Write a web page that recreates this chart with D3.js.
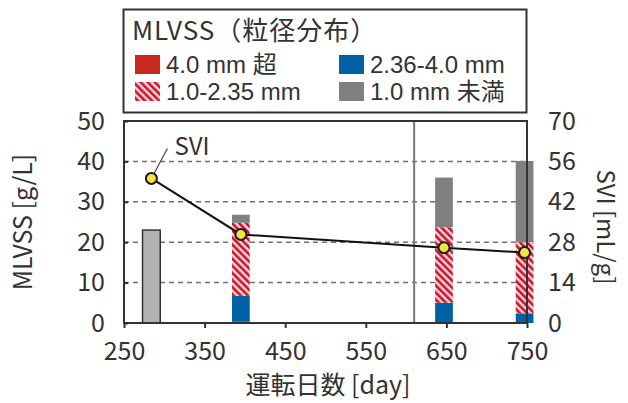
<!DOCTYPE html>
<html><head><meta charset="utf-8">
<script src="https://cdn.jsdelivr.net/npm/d3@7"></script>
<style>body{margin:0;background:#fff}svg{display:block}text{font-family:"Noto Sans CJK JP","Noto Sans",sans-serif;fill:#333}</style>
</head><body><div id="chart"></div>
<script>
// ---- data ----
const leftTicks = [0, 10, 20, 30, 40, 50];
const rightTicks = [0, 14, 28, 42, 56, 70];
const xTicks = [250, 350, 450, 550, 650, 750];
const totalOnlyDays = [284];
const totalOnlyValues = [23.0];
const barDays = [395, 647, 747];
const over40 = [0.3, 0, 0];
const size236to40 = [6.4, 5.0, 2.4];
const size10to235 = [18.1, 18.7, 17.6];
const under10 = [2.0, 12.3, 20.1];
const sviDays = [284, 395, 647, 747];
const sviValues = [50.1, 30.7, 26.1, 24.4];
const dividerDay = [610];
const legendTitle = "MLVSS（粒径分布）";
const legendLabels = ["4.0 mm 超", "2.36-4.0 mm", "1.0-2.35 mm", "1.0 mm 未満"];
const yLeftTitle = "MLVSS [g/L]";
const yRightTitle = "SVI [mL/g]";
const xTitle = "運転日数 [day]";
const sviLabel = "SVI";

const W = 628, H = 403;
const svg = d3.select("#chart").append("svg").attr("width", W).attr("height", H);
const x = d3.scaleLinear().domain([250, 750]).range([124, 527]);
const yL = d3.scaleLinear().domain([0, 50]).range([323, 121]);
const yR = d3.scaleLinear().domain([0, 70]).range([323, 121]);
const colors = {over40: "#c8281e", size236to40: "#0062a4", size10to235: "url(#hatch)", under10: "#808080"};

const defs = svg.append("defs");
const pat = defs.append("pattern").attr("id", "hatch").attr("patternUnits", "userSpaceOnUse")
  .attr("width", 5).attr("height", 5).attr("patternTransform", "rotate(-45)");
pat.append("rect").attr("width", 5).attr("height", 5).attr("fill", "#f7d6da");
pat.append("rect").attr("width", 2.6).attr("height", 5).attr("fill", "#c8142e");

// gridlines
svg.append("g").selectAll("line").data(leftTicks.filter(d => d > 0 && d < 50)).join("line")
  .attr("x1", x(250)).attr("x2", x(750)).attr("y1", d => yL(d)).attr("y2", d => yL(d))
  .attr("stroke", "#707070").attr("stroke-width", 1.5).attr("stroke-dasharray", "5,4");

// divider
svg.append("g").selectAll("line").data(dividerDay).join("line")
  .attr("x1", d => x(d)).attr("x2", d => x(d)).attr("y1", yL(50)).attr("y2", yL(0))
  .attr("stroke", "#777").attr("stroke-width", 2);

const halfW = 11;
// total-only bar
svg.append("g").selectAll("rect").data(totalOnlyDays).join("rect")
  .attr("x", d => x(d - halfW)).attr("width", d => x(d + halfW) - x(d - halfW))
  .attr("y", (d, i) => yL(totalOnlyValues[i])).attr("height", (d, i) => yL(0) - yL(totalOnlyValues[i]))
  .attr("fill", "#b2b2b2").attr("stroke", "#333").attr("stroke-width", 1.5);

// stacked bars
const keys = ["over40", "size236to40", "size10to235", "under10"];
const rows = barDays.map((d, i) => ({day: d, over40: over40[i], size236to40: size236to40[i], size10to235: size10to235[i], under10: under10[i]}));
const stacked = d3.stack().keys(keys)(rows);
svg.append("g").selectAll("g").data(stacked).join("g").attr("fill", s => colors[s.key])
  .selectAll("rect").data(s => s).join("rect")
  .attr("x", d => x(d.data.day - halfW)).attr("width", d => x(d.data.day + halfW) - x(d.data.day - halfW))
  .attr("y", d => yL(d[1])).attr("height", d => yL(d[0]) - yL(d[1]));

// frame
svg.append("rect").attr("x", x(250)).attr("y", yL(50)).attr("width", x(750) - x(250)).attr("height", yL(0) - yL(50))
  .attr("fill", "none").attr("stroke", "#333").attr("stroke-width", 2);

// axes
const fs = 25;
const gL = svg.append("g").attr("transform", `translate(${x(250)},0)`)
  .call(d3.axisLeft(yL).tickValues(leftTicks).tickSize(-4).tickPadding(19));
const gB = svg.append("g").attr("transform", `translate(0,${yL(0)})`)
  .call(d3.axisBottom(x).tickValues(xTicks).tickSize(5).tickPadding(14));
const gR = svg.append("g").attr("transform", `translate(${x(750)},0)`)
  .call(d3.axisRight(yR).tickValues(rightTicks).tickSize(0).tickPadding(21));
[gL, gB, gR].forEach(g => {
  g.select(".domain").remove();
  g.selectAll("line").attr("stroke", "#333").attr("stroke-width", 2);
  g.selectAll("text").attr("font-size", fs).attr("fill", "#333").style("font-family", '"Noto Sans CJK JP","Noto Sans",sans-serif');
});

// SVI line
const line = d3.line().x((d, i) => x(sviDays[i])).y(d => yR(d));
svg.append("path").datum(sviValues).attr("d", line).attr("fill", "none").attr("stroke", "#111").attr("stroke-width", 2);
// leader
svg.append("line").attr("x1", x(sviDays[0])).attr("y1", yR(sviValues[0]))
  .attr("x2", x(sviDays[0]) + 16).attr("y2", yR(sviValues[0]) - 30).attr("stroke", "#444").attr("stroke-width", 1.2);
svg.append("g").selectAll("circle").data(sviValues).join("circle")
  .attr("cx", (d, i) => x(sviDays[i])).attr("cy", d => yR(d)).attr("r", 5.5)
  .attr("fill", "#f3e33c").attr("stroke", "#1a1a1a").attr("stroke-width", 2);
svg.append("text").attr("x", x(sviDays[0]) + 23).attr("y", yR(sviValues[0]) - 23).attr("font-size", 24).text(sviLabel);

// axis titles
svg.append("text").attr("transform", `translate(32,222) rotate(-90)`).attr("text-anchor", "middle").attr("font-size", 25).text(yLeftTitle);
svg.append("text").attr("transform", `translate(597,227) rotate(90)`).attr("text-anchor", "middle").attr("font-size", 24).text(yRightTitle);
svg.append("text").attr("x", 328).attr("y", 394).attr("text-anchor", "middle").attr("font-size", 25).text(xTitle);

// legend
const lg = svg.append("g");
lg.append("rect").attr("x", 123.5).attr("y", 9.5).attr("width", 403).attr("height", 103)
  .attr("fill", "#fff").attr("stroke", "#333").attr("stroke-width", 2);
lg.append("text").attr("x", 132).attr("y", 40).attr("font-size", 26).attr("letter-spacing", 1).text(legendTitle);
const legItems = [
  {label: legendLabels[0], fill: colors.over40, sx: 135, row: 0},
  {label: legendLabels[1], fill: colors.size236to40, sx: 339, row: 0},
  {label: legendLabels[2], fill: colors.size10to235, sx: 135, row: 1},
  {label: legendLabels[3], fill: colors.under10, sx: 339, row: 1}
];
const rowY = [55, 82];
legItems.forEach(it => {
  lg.append("rect").attr("x", it.sx).attr("y", rowY[it.row]).attr("width", 25).attr("height", 19).attr("fill", it.fill);
  lg.append("text").attr("x", it.sx + 31).attr("y", rowY[it.row] + 18).attr("font-size", 24)
    .style("font-family", '"Liberation Sans","Noto Sans CJK JP",sans-serif').text(it.label);
});
</script></body></html>
